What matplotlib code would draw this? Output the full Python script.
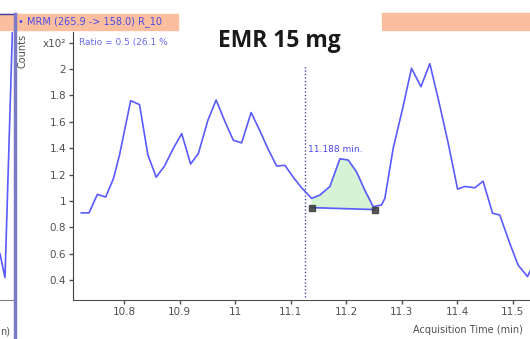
import matplotlib
matplotlib.use('Agg')
import matplotlib.pyplot as plt
import numpy as np
from matplotlib.patches import Rectangle
from matplotlib.lines import Line2D

# chromatogram trace (acquisition time in min, counts x10^2)
time = [10.723, 10.737, 10.752, 10.767, 10.781, 10.792, 10.812, 10.828, 10.843, 10.858,
        10.873, 10.889, 10.904, 10.920, 10.934, 10.951, 10.966, 10.982, 10.997, 11.012,
        11.029, 11.045, 11.060, 11.075, 11.090, 11.105, 11.120, 11.138, 11.153, 11.171,
        11.189, 11.204, 11.219, 11.234, 11.249, 11.264, 11.270, 11.285, 11.302, 11.318,
        11.335, 11.351, 11.368, 11.384, 11.401, 11.414, 11.432, 11.447, 11.464, 11.477,
        11.495, 11.510, 11.527, 11.535]
counts = [0.91, 0.91, 1.05, 1.03, 1.17, 1.35, 1.76, 1.73, 1.35, 1.18,
          1.265, 1.40, 1.51, 1.28, 1.36, 1.61, 1.765, 1.60, 1.46, 1.44,
          1.67, 1.53, 1.39, 1.265, 1.27, 1.18, 1.10, 1.02, 1.045, 1.11,
          1.32, 1.31, 1.22, 1.08, 0.957, 0.97, 1.02, 1.40, 1.70, 2.005,
          1.866, 2.04, 1.74, 1.44, 1.09, 1.11, 1.10, 1.15, 0.907, 0.894,
          0.68, 0.515, 0.427, 0.50]

# integrated peak: baseline end points
peak_t = [11.138, 11.252]
peak_base = [0.95, 0.935]
rt_marker = 11.127
rt_label = '11.188 min.'

# tail of the neighbouring chromatogram (left panel)
left_t = [11.450, 11.459, 11.4735]
left_v = [0.60, 0.42, 2.45]

xticks = [10.8, 10.9, 11.0, 11.1, 11.2, 11.3, 11.4, 11.5]
xticklabels = ['10.8', '10.9', '11', '11.1', '11.2', '11.3', '11.4', '11.5']
yticks = [0.4, 0.6, 0.8, 1.0, 1.2, 1.4, 1.6, 1.8, 2.0, 2.2]
yticklabels = ['0.4', '0.6', '0.8', '1', '1.2', '1.4', '1.6', '1.8', '2', 'x10²']

line_col = '#5a5aff'
txt_col = '#4a4ae8'
tick_col = '#505050'

fig = plt.figure(figsize=(5.3, 3.39), dpi=100)

W, H = 530.0, 339.0
ax = fig.add_axes([73 / W, 39 / H, 457 / W, 268 / H])
ax.plot(time, counts, color=line_col, lw=1.2, zorder=3)

# shaded peak area
t_arr = np.array(time)
v_arr = np.array(counts)
mask = (t_arr >= peak_t[0]) & (t_arr <= peak_t[1])
tt = np.concatenate([[peak_t[0]], t_arr[mask], [peak_t[1]]])
vv = np.concatenate([[np.interp(peak_t[0], t_arr, v_arr)], v_arr[mask], [peak_base[1]]])
bb = np.interp(tt, peak_t, peak_base)
ax.fill_between(tt, bb, vv, color='#d6f3d6', zorder=2)
ax.plot(peak_t, peak_base, color=line_col, lw=1.2, zorder=3)
ax.plot(peak_t, peak_base, 's', color='#3c3c3c', ms=5, alpha=0.85, zorder=4)

ax.vlines(rt_marker, 0.27, 2.02, colors='#4a4aa8', linestyles=(0, (1, 1.5)), lw=1, zorder=1)
ax.text(rt_marker + 0.005, 1.39, rt_label, color=txt_col, fontsize=6.5, va='center')

ax.set_xlim(10.7081, 11.5315)
ax.set_ylim(0.25, 2.28)
ax.set_xticks(xticks)
ax.set_xticklabels(xticklabels)
ax.set_yticks(yticks)
ax.set_yticklabels(yticklabels)
ax.tick_params(axis='both', direction='out', length=3, width=1, colors=tick_col,
               labelsize=7.5, pad=2)
for s in ['top', 'right']:
    ax.spines[s].set_visible(False)
ax.spines['left'].set_color('#404040')
ax.spines['bottom'].set_color('#505050')
ax.set_facecolor('none')

# left neighbour panel
ax2 = fig.add_axes([0, 39 / H, 13 / W, 268 / H])
ax2.plot(left_t, left_v, color=line_col, lw=1.2)
ax2.set_xlim(11.450, 11.4734)
ax2.set_ylim(0.25, 2.28)
ax2.set_xticks([])
ax2.set_yticks([])
for s in ['top', 'right', 'left']:
    ax2.spines[s].set_visible(False)
ax2.spines['bottom'].set_color('#808080')
ax2.set_facecolor('none')

# header bars
fig.add_artist(Rectangle((0, 1 - 30 / H), 178 / W, 16 / H, transform=fig.transFigure,
                         color='#fbbf9f', zorder=0))
fig.add_artist(Rectangle((382 / W, 1 - 30 / H), 148 / W, 17 / H, transform=fig.transFigure,
                         color='#fbbf9f', zorder=0))
fig.add_artist(Line2D([0, 15 / W], [1 - 14 / H, 1 - 14 / H], transform=fig.transFigure,
                      color='#3c3c9c', lw=1))
fig.add_artist(Line2D([15 / W, 15 / W], [0, 1 - 14 / H], transform=fig.transFigure,
                      color='#7a7ac8', lw=2.5))

fig.text(18 / W, 1 - 22 / H, '• MRM (265.9 -> 158.0) R_10', color=txt_col, fontsize=7,
         va='center', ha='left')
fig.text(79 / W, 1 - 42 / H, 'Ratio = 0.5 (26.1 %', color='#6a6af0', fontsize=6.5,
         va='center', ha='left')
fig.text(23 / W, 1 - 51 / H, 'Counts', color='#505050', fontsize=7, rotation=90,
         va='center', ha='center')
fig.text(279 / W, 1 - 41 / H, 'EMR 15 mg', color='#1a1a1a', fontsize=16.5,
         fontweight='bold', family='Open Sans', va='center', ha='center')
fig.text(413 / W, 1 - 330 / H, 'Acquisition Time (min)', color='#505050', fontsize=7,
         va='center', ha='left')
fig.text(0, 1 - 331 / H, 'n)', color='#505050', fontsize=7, va='center', ha='left')

fig.savefig('out.png', dpi=100)
